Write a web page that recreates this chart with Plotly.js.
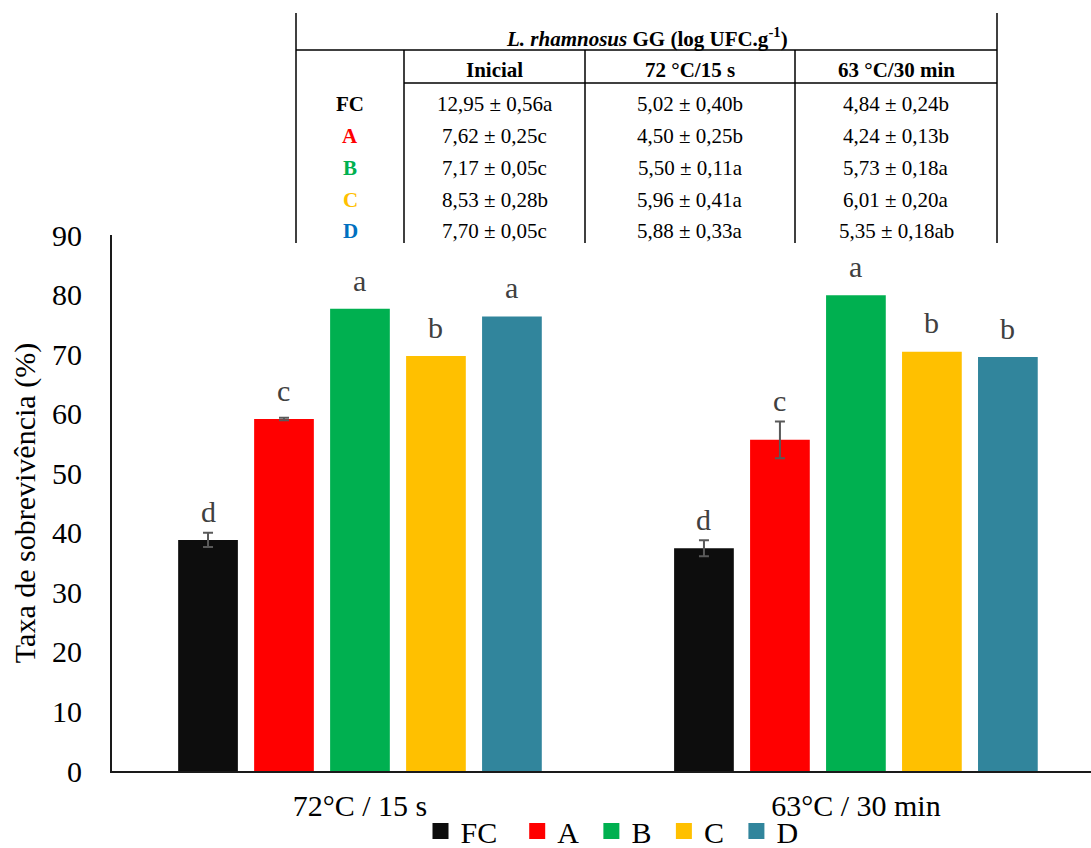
<!DOCTYPE html>
<html>
<head>
<meta charset="utf-8">
<script src="https://cdn.plot.ly/plotly-3.0.1.min.js"></script>
<style>
  html, body { margin: 0; padding: 0; background: #ffffff; }
  #chart { width: 1091px; height: 848px; }
</style>
</head>
<body>
<div id="chart"></div>
<script>
// Survival rate of L. rhamnosus GG after each heat treatment
const treatments = ['72°C / 15 s', '63°C / 30 min'];
const seriesNames = ['FC', 'A', 'B', 'C', 'D'];

const survivalFC = [38.8, 37.4];
const survivalA = [59.1, 55.6];
const survivalB = [77.6, 79.9];
const survivalC = [69.7, 70.4];
const survivalD = [76.3, 69.5];

const errorFC = [1.2, 1.35];
const errorA = [0.2, 3.1];

const lettersFC = ['d', 'd'];
const lettersA = ['c', 'c'];
const lettersB = ['a', 'a'];
const lettersC = ['b', 'b'];
const lettersD = ['a', 'b'];

// Counts table (log UFC.g-1)
const tableTitle = '<i>L. rhamnosus</i> GG (log UFC.g<sup>-1</sup>)';
const tableColumns = ['Inicial', '72 °C/15 s', '63 °C/30 min'];
const tableRowFC = ['12,95 ± 0,56a', '5,02 ± 0,40b', '4,84 ± 0,24b'];
const tableRowA = ['7,62 ± 0,25c', '4,50 ± 0,25b', '4,24 ± 0,13b'];
const tableRowB = ['7,17 ± 0,05c', '5,50 ± 0,11a', '5,73 ± 0,18a'];
const tableRowC = ['8,53 ± 0,28b', '5,96 ± 0,41a', '6,01 ± 0,20a'];
const tableRowD = ['7,70 ± 0,05c', '5,88 ± 0,33a', '5,35 ± 0,18ab'];

// ---- styling ----
const colors = ['#0d0d0d', '#ff0000', '#00b050', '#ffc000', '#31859c'];
const labelColors = ['#000000', '#ff0000', '#00b050', '#ffc000', '#0070c0'];
const FONT = '"Liberation Serif"';
const W = 1091, H = 848;
const PL = 112, PR = 1091, PT = 235, PB = 771;
const Y_MAX = 90;
const pxPerUnit = (PB - PT) / Y_MAX;
const px2x = px => (px - PL) / (PR - PL);
const py2y = py => (PB - py) / (PB - PT);

const values = [survivalFC, survivalA, survivalB, survivalC, survivalD];
const errors = [errorFC, errorA, null, null, null];
const letters = [lettersFC, lettersA, lettersB, lettersC, lettersD];
const tableRows = [tableRowFC, tableRowA, tableRowB, tableRowC, tableRowD];

const traces = [];
values.forEach((v, i) => {
  const t = {
    type: 'bar',
    name: seriesNames[i],
    x: treatments,
    y: v,
    marker: { color: colors[i], line: { width: 0 } },
    showlegend: false,
    hoverinfo: 'x+y+name'
  };
  if (errors[i]) {
    t.error_y = { type: 'data', array: errors[i], visible: true,
                  color: '#595959', thickness: 2, width: 5 };
  }
  traces.push(t);
});
// legend entries with larger square keys; trailing non-breaking spaces widen the spacing
const legendPad = ['\u00a0\u00a0', '\u00a0', '\u00a0', '\u00a0', ''];
seriesNames.forEach((n, i) => {
  traces.push({
    type: 'scatter', mode: 'markers',
    name: n + legendPad[i],
    x: [null], y: [null],
    marker: { symbol: 'square', size: 16, color: colors[i] },
    hoverinfo: 'skip'
  });
});

// group / bar geometry (for placing the significance letters)
const nSeries = seriesNames.length;
const bargap = 0.234, bargroupgap = 0.214;
const slot = (1 - bargap) / nSeries;

const annotations = [];
values.forEach((v, i) => {
  v.forEach((val, g) => {
    const err = errors[i] ? errors[i][g] : 0;
    // baseline sits above the bar, or above the error cap if that is higher
    const base = Math.max(val + 19.3 / pxPerUnit, val + err + 11.7 / pxPerUnit);
    annotations.push({
      x: g - (1 - bargap) / 2 + slot * (i + 0.5),
      y: base, xref: 'x', yref: 'y',
      text: letters[i][g], showarrow: false,
      xanchor: 'center', yanchor: 'bottom', yshift: -9,
      font: { family: FONT, size: 30, color: '#404040' }
    });
  });
});

// ---- table above the plot ----
const shapes = [];
const line = (x0, y0, x1, y1) => shapes.push({
  type: 'line', xref: 'paper', yref: 'paper',
  x0: px2x(x0), y0: py2y(y0), x1: px2x(x1), y1: py2y(y1),
  line: { color: '#000000', width: 1.5 }
});
const tL = 296, tR = 997, tTop = 13, tBot = 243;
const colEdges = [404, 585, 795, 997];
line(tL, tTop, tL, tBot);
line(tR, tTop, tR, tBot);
line(tL, 50, tR, 50);
line(colEdges[0], 83, tR, 83);
line(colEdges[0], 50, colEdges[0], tBot);
line(colEdges[1], 50, colEdges[1], tBot);
line(colEdges[2], 50, colEdges[2], tBot);

const cell = (text, cx, cy, opts) => annotations.push(Object.assign({
  x: px2x(cx), y: py2y(cy), xref: 'paper', yref: 'paper',
  text: text, showarrow: false, xanchor: 'center', yanchor: 'middle',
  font: { family: FONT, size: 21, color: '#000000' }
}, opts || {}));

cell('<b>' + tableTitle + '</b>', (tL + tR) / 2, 38);
tableColumns.forEach((c, j) => {
  cell('<b>' + c + '</b>', (colEdges[j] + colEdges[j + 1]) / 2, 70);
});
const rowY = [104, 136, 168, 200, 231];
tableRows.forEach((row, i) => {
  cell('<b>' + seriesNames[i] + '</b>', (tL + colEdges[0]) / 2, rowY[i],
       { font: { family: FONT, size: 21, color: labelColors[i] } });
  row.forEach((t, j) => {
    cell(t, (colEdges[j] + colEdges[j + 1]) / 2, rowY[i]);
  });
});

const layout = {
  width: W, height: H,
  margin: { l: PL, r: W - PR, t: PT, b: H - PB, pad: 0, autoexpand: false },
  paper_bgcolor: '#ffffff', plot_bgcolor: '#ffffff',
  font: { family: FONT, size: 30, color: '#000000' },
  barmode: 'group', bargap: bargap, bargroupgap: bargroupgap,
  showlegend: true,
  legend: {
    orientation: 'h', x: px2x(612), xanchor: 'center',
    y: py2y(831), yanchor: 'middle',
    font: { family: FONT, size: 30, color: '#000000' },
    bgcolor: 'rgba(0,0,0,0)', traceorder: 'normal'
  },
  xaxis: {
    type: 'category', range: [-0.5, 1.474],
    showline: true, linecolor: '#1a1a1a', linewidth: 2,
    ticks: '', showgrid: false, zeroline: false,
    tickfont: { family: FONT, size: 30, color: '#000000' },
    ticklabelstandoff: 7, fixedrange: true
  },
  yaxis: {
    range: [0, Y_MAX], dtick: 10, tick0: 0,
    showline: true, linecolor: '#1a1a1a', linewidth: 2,
    ticks: '', showgrid: false, zeroline: false,
    tickfont: { family: FONT, size: 30, color: '#000000' },
    ticklabelstandoff: 22,
    title: { text: 'Taxa de sobrevivência (%)', standoff: 8,
             font: { family: FONT, size: 30, color: '#000000' } },
    fixedrange: true
  },
  shapes: shapes,
  annotations: annotations
};

Plotly.newPlot('chart', traces, layout, { displayModeBar: false, responsive: false });
</script>
</body>
</html>
